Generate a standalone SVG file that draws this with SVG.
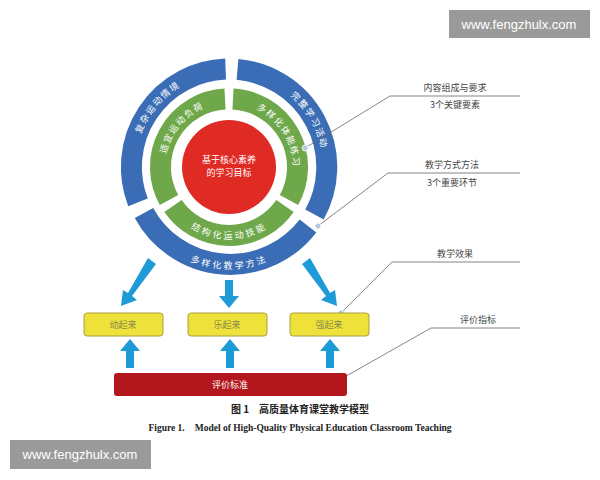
<svg xmlns="http://www.w3.org/2000/svg" width="600" height="480" viewBox="0 0 600 480">
<style>
.cn{font-family:"Noto Sans CJK SC","Liberation Serif",serif}
.w{fill:#fff;font-size:9px}
.g{fill:#444;font-size:9px}
.lead{stroke:#666;stroke-width:0.8;fill:none}
.dot{fill:#b8c8e0;stroke:#fff;stroke-width:0.8}
.arr{fill:#1e9bd7}
.box{fill:#eee23a;stroke:#a9a040;stroke-width:1}
.bl{fill:none;stroke:#3a6db5;stroke-width:21}
.gr{fill:none;stroke:#6ea84a;stroke-width:21}
.tp{dominant-baseline:central;letter-spacing:2px}
</style>
<defs>
<path id="pL" d="M132.5,184 A98,98 0 0 1 229,69"/>
<path id="pR" d="M246,70.5 A98,98 0 0 1 321.1,200.5"/>
<path id="pB" d="M159.7,236.3 A98,98 0 0 0 298.3,236.3"/>
<path id="gL" d="M163.3,184.6 A68,68 0 0 1 234.9,99.3"/>
<path id="gR" d="M232.6,99.1 A68,68 0 0 1 291.6,193.6"/>
<path id="gB" d="M176.9,210.7 A68,68 0 0 0 281.1,210.7"/>
</defs>
<rect width="600" height="480" fill="#fff"/>
<g id="ring">
<path class="bl" d="M138.0,202.4 A98,98 0 0 1 225.6,69.1"/>
<path class="bl" d="M237.5,69.4 A98,98 0 0 1 314.5,214.5"/>
<path class="bl" d="M308,226 A98,98 0 0 1 144,213"/>
<path class="gr" d="M169,200 A68,68 0 0 1 225,99.1"/>
<path class="gr" d="M233,99.1 A68,68 0 0 1 289,200"/>
<path class="gr" d="M285,206 A68,68 0 0 1 173,206"/>
<circle cx="229" cy="167" r="47" fill="#e02a24"/>
<text class="cn w tp"><textPath href="#pL" startOffset="50%" text-anchor="middle">复杂运动情境</textPath></text>
<text class="cn w tp"><textPath href="#pR" startOffset="50%" text-anchor="middle">完整学习活动</textPath></text>
<text class="cn w tp"><textPath href="#pB" startOffset="50%" text-anchor="middle">多样化教学方法</textPath></text>
<text class="cn w tp"><textPath href="#gL" startOffset="50%" text-anchor="middle">适宜运动负荷</textPath></text>
<text class="cn w tp"><textPath href="#gR" startOffset="50%" text-anchor="middle">多样化体能练习</textPath></text>
<text class="cn w tp"><textPath href="#gB" startOffset="50%" text-anchor="middle">结构化运动技能</textPath></text>
<text class="cn w" x="229" y="163" text-anchor="middle">基于核心素养</text>
<text class="cn w" x="229" y="176" text-anchor="middle">的学习目标</text>
</g>
<g id="connectors">
<path class="arr" d="M148,258 L156,264 L132,296 L137,300 L121,306 L123,290 L128,293 Z"/>
<path class="arr" d="M225,280 L233,280 L233,296 L239,296 L229,308 L219,296 L225,296 Z"/>
<path class="arr" d="M310,258 L302,264 L326,296 L321,300 L337,306 L335,290 L330,293 Z"/>
<path class="arr" d="M126,368 L134,368 L134,351 L140,351 L130,339 L120,351 L126,351 Z"/>
<path class="arr" d="M226,368 L234,368 L234,351 L240,351 L230,339 L220,351 L226,351 Z"/>
<path class="arr" d="M326,368 L334,368 L334,351 L340,351 L330,339 L320,351 L326,351 Z"/>
<path class="lead" d="M305,148 L390,96 L520,96"/>
<path class="lead" d="M318,226 L388,173 L520,173"/>
<path class="lead" d="M341,313 L392,262 L520,262"/>
<path class="lead" d="M341,379 L431,328 L520,328"/>
<circle class="dot" cx="305" cy="148" r="3"/>
<circle class="dot" cx="318" cy="226" r="3"/>
<circle class="dot" cx="341" cy="313" r="3"/>
<circle class="dot" cx="341" cy="379" r="3"/>
</g>
<g id="b1"><rect class="box" x="84" y="313" width="79" height="23" rx="3"/><text class="cn" x="123" y="328" font-size="9" fill="#8a8a4a" text-anchor="middle">动起来</text></g>
<g id="b2"><rect class="box" x="188" y="313" width="79" height="23" rx="3"/><text class="cn" x="227" y="328" font-size="9" fill="#8a8a4a" text-anchor="middle">乐起来</text></g>
<g id="b3"><rect class="box" x="290" y="313" width="79" height="23" rx="3"/><text class="cn" x="329" y="328" font-size="9" fill="#8a8a4a" text-anchor="middle">强起来</text></g>
<g id="bar"><rect x="114" y="373" width="233" height="23" rx="3" fill="#b3161c"/><text class="cn w" x="230" y="388" text-anchor="middle">评价标准</text></g>
<g id="labels">
<text class="cn g" x="455" y="91" text-anchor="middle">内容组成与要求</text>
<text class="cn g" x="455" y="108" text-anchor="middle">3个关键要素</text>
<text class="cn g" x="452" y="168" text-anchor="middle">教学方式方法</text>
<text class="cn g" x="452" y="186" text-anchor="middle">3个重要环节</text>
<text class="cn g" x="455" y="257" text-anchor="middle">教学效果</text>
<text class="cn g" x="478" y="323" text-anchor="middle">评价指标</text>
</g>
<g id="caption">
<text class="cn" x="300" y="413" font-size="10" font-weight="bold" fill="#222" text-anchor="middle">图 1　高质量体育课堂教学模型</text>
<text x="300" y="431" font-family="Liberation Serif,serif" font-size="9.5" font-weight="bold" fill="#222" text-anchor="middle">Figure 1.　Model of High-Quality Physical Education Classroom Teaching</text>
</g>
<g id="wm">
<rect x="449" y="10" width="141" height="28" fill="#9a9a9a"/>
<text x="519" y="29" font-family="Liberation Sans,sans-serif" font-size="13" fill="#fff" text-anchor="middle">www.fengzhulx.com</text>
<rect x="10" y="440" width="141" height="29" fill="#9a9a9a"/>
<text x="80" y="459" font-family="Liberation Sans,sans-serif" font-size="13" fill="#fff" text-anchor="middle">www.fengzhulx.com</text>
</g>
</svg>
